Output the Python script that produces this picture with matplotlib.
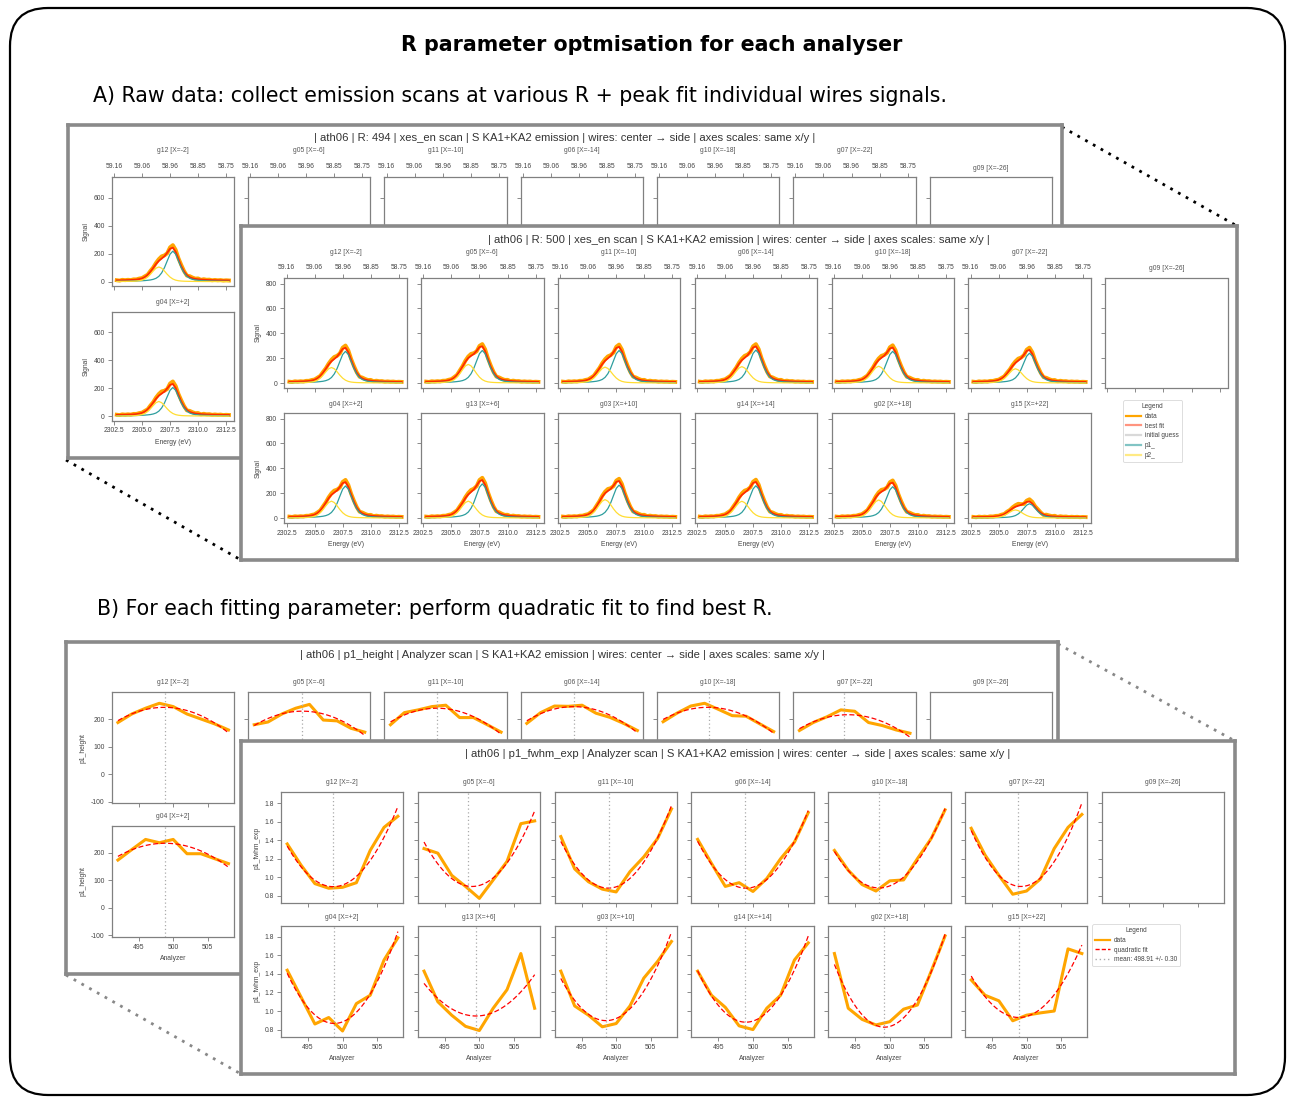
import numpy as np
import matplotlib
matplotlib.use('Agg')
import matplotlib.pyplot as plt
from matplotlib.patches import FancyBboxPatch
from matplotlib.lines import Line2D

plt.rcParams['font.family'] = ['Liberation Sans', 'DejaVu Sans']

W, H = 1293, 1101

# ---- data -------------------------------------------------------------
wires_top = ['g12 [X=-2]', 'g05 [X=-6]', 'g11 [X=-10]', 'g06 [X=-14]',
             'g10 [X=-18]', 'g07 [X=-22]', 'g09 [X=-26]']
wires_bot = ['g04 [X=+2]', 'g13 [X=+6]', 'g03 [X=+10]', 'g14 [X=+14]',
             'g02 [X=+18]', 'g15 [X=+22]']

energy_ticks = [2302.5, 2305.0, 2307.5, 2310.0, 2312.5]
energy_labels = ['2302.5', '2305.0', '2307.5', '2310.0', '2312.5']
angle_labels = ['59.16', '59.06', '58.96', '58.85', '58.75']

# energy grid of the scans (eV)
energy = np.linspace(2302.75, 2312.75, 41)
# normalised peak profiles
p1_shape = [0.010, 0.011, 0.012, 0.013, 0.015, 0.017, 0.019, 0.022, 0.026, 0.030,
            0.036, 0.045, 0.056, 0.076, 0.110, 0.174, 0.286, 0.458, 0.682, 0.901,
            1.0, 0.901, 0.682, 0.458, 0.286, 0.174, 0.110, 0.076, 0.056, 0.045,
            0.036, 0.030, 0.026, 0.022, 0.019, 0.017, 0.015, 0.013, 0.012, 0.011, 0.010]
p2_shape = [0.012, 0.013, 0.015, 0.018, 0.021, 0.025, 0.031, 0.042, 0.063, 0.104,
            0.182, 0.312, 0.5, 0.722, 0.918, 1.0, 0.918, 0.722, 0.5, 0.312,
            0.182, 0.104, 0.063, 0.042, 0.031, 0.025, 0.021, 0.018, 0.015, 0.013,
            0.012, 0.010, 0.009, 0.008, 0.007, 0.007, 0.006, 0.006, 0.005, 0.005, 0.004]
# data minus best fit (counts)
resid = [1, -2, 3, 0, 2, -1, 3, 1, 4, 2, 5, 1, 6, 3, 8, 12, 16, 6, -4, 10,
         18, 14, 6, 9, 4, -3, 7, 5, 2, 6, -2, 4, 1, 3, -1, 2, 0, 2, -1, 1, 0]
background = 6

# fitted heights, R = 500
r500_p1_top = [255, 262, 262, 265, 255, 240]
r500_p2_top = [125, 150, 128, 132, 135, 115]
r500_p1_bot = [258, 275, 265, 260, 252, 115]
r500_p2_bot = [136, 136, 148, 135, 145, 65]
# fitted heights, R = 494 (only g12 and g04 visible)
r494_p1_top = [218]
r494_p2_top = [105]
r494_p1_bot = [205]
r494_p2_bot = [105]

analyzer = [492, 494, 496, 498, 500, 502, 504, 506, 508]
fwhm_top = [
    [1.36, 1.13, 0.93, 0.88, 0.89, 0.94, 1.29, 1.54, 1.66],
    [1.31, 1.26, 1.02, 0.90, 0.77, 0.97, 1.17, 1.58, 1.61],
    [1.44, 1.09, 0.95, 0.87, 0.84, 1.06, 1.22, 1.42, 1.74],
    [1.41, 1.15, 0.90, 0.94, 0.845, 0.985, 1.20, 1.38, 1.70],
    [1.29, 1.075, 0.92, 0.85, 0.96, 0.97, 1.20, 1.42, 1.73],
    [1.53, 1.24, 1.02, 0.815, 0.85, 0.98, 1.31, 1.54, 1.68],
]
fwhm_bot = [
    [1.44, 1.15, 0.86, 0.93, 0.785, 1.08, 1.17, 1.55, 1.79],
    [1.43, 1.10, 0.955, 0.835, 0.79, 1.03, 1.23, 1.62, 1.03],
    [1.43, 1.055, 0.955, 0.83, 0.865, 1.055, 1.355, 1.535, 1.75],
    [1.43, 1.17, 1.04, 0.84, 0.80, 1.03, 1.17, 1.55, 1.735],
    [1.62, 1.03, 0.91, 0.85, 0.885, 1.02, 1.065, 1.43, 1.81],
    [1.335, 1.17, 1.11, 0.895, 0.955, 0.98, 1.00, 1.67, 1.62],
]
fwhm_best_top = [498.6, 498.4, 498.9, 498.9, 498.5, 498.8]
fwhm_best_bot = [498.7, 499.5, 498.5, 498.9, 499.2, 498.9]

height_top = [
    [188, 219, 240, 258, 246, 219, 201, 183, 161],
    [180, 190, 219, 240, 254, 197, 194, 167, 153],
    [180, 224, 234, 246, 251, 206, 206, 180, 153],
    [185, 224, 248, 247, 251, 222, 207, 185, 159],
    [191, 222, 248, 258, 236, 213, 211, 183, 155],
    [159, 188, 209, 234, 229, 188, 177, 161, 149],
]
height_bot = [[173, 211, 248, 236, 248, 196, 196, 178, 160]]
height_best_top = [498.75, 498.9, 498.7, 498.9, 498.7, 498.5]
height_best_bot = [498.75]

# ---- styling ------------------------------------------------------------
C_DATA, C_FIT, C_P1, C_P2, C_INIT = '#ffa500', '#ff2a00', '#2e9e9e', '#ffdd33', '#d0d0d0'
FS = 4.9
fig = plt.figure(figsize=(W / 100, H / 100), dpi=100)


def px_ax(l, t, r, b, z):
    return fig.add_axes([l / W, 1 - b / H, (r - l) / W, (b - t) / H], zorder=z)


def panel(l, t, r, b, z, title, title_y):
    ax = px_ax(l, t, r, b, z)
    ax.set_xticks([])
    ax.set_yticks([])
    for s in ax.spines.values():
        s.set_color('#8a8a8a')
        s.set_linewidth(2.6)
    ax.text(0.5, (b - title_y) / (b - t), title, transform=ax.transAxes,
            ha='center', va='center', fontsize=8.15, color='#333333')
    return ax


def sub(l, t, r, b, z, label, label_y, xlim, xticks, ylim, yticks):
    ax = px_ax(l, t, r, b, z)
    ax.set_xlim(*xlim)
    ax.set_ylim(*ylim)
    ax.set_xticks(xticks)
    ax.set_yticks(yticks)
    for s in ax.spines.values():
        s.set_color('#808080')
        s.set_linewidth(0.9)
    ax.tick_params(direction='out', length=3, width=0.6, color='#777777',
                   labelsize=FS, labelcolor='#444444', pad=2,
                   labelleft=False, labelbottom=False)
    ax.text(0.5, (b - label_y) / (b - t), label, transform=ax.transAxes,
            ha='center', va='center', fontsize=FS, color='#555555')
    return ax


def draw_spectrum(ax, h1, h2):
    p1 = h1 * np.array(p1_shape)
    p2 = h2 * np.array(p2_shape)
    fit = p1 + p2 + background
    ax.plot(energy, fit + np.array(resid), color=C_DATA, lw=2.8, solid_joinstyle='round')
    ax.plot(energy, fit, color=C_FIT, lw=1.3)
    ax.plot(energy, p1, color=C_P1, lw=0.9)
    ax.plot(energy, p2, color=C_P2, lw=0.9)


def draw_scan(ax, y, best):
    ax.plot(analyzer, y, color=C_DATA, lw=2.2)
    coef = np.polyfit(analyzer, y, 2)
    xs = np.linspace(analyzer[0], analyzer[-1], 60)
    ax.plot(xs, np.polyval(coef, xs), color='red', lw=0.9, ls=(0, (4, 2)))
    ax.axvline(best, color='#aaaaaa', lw=0.9, ls=(0, (1, 2)))


def spectrum_panel(geo, z, p1_top, p2_top, p1_bot, p2_bot, ylim, yticks):
    x0, step, w = geo['x0'], geo['step'], geo['w']
    (t0, b0), (t1, b1) = geo['rows']
    xlim = (2302.3, 2313.2)
    for i, name in enumerate(wires_top):
        l = x0 + i * step
        if i == 6:
            sub(l, t0, l + w, b0, z, name, geo['g09_y'], xlim, energy_ticks, ylim, yticks)
            continue
        ax = sub(l, t0, l + w, b0, z, name, geo['sub_y'][0], xlim, energy_ticks, ylim, yticks)
        ax.set_xticklabels(angle_labels)
        ax.tick_params(axis='x', top=True, labeltop=True)
        if i < len(p1_top):
            draw_spectrum(ax, p1_top[i], p2_top[i])
        if i == 0:
            ax.tick_params(axis='y', labelleft=True)
            ax.set_ylabel('Signal', fontsize=FS, color='#444444', labelpad=3)
    for i, name in enumerate(wires_bot):
        l = x0 + i * step
        ax = sub(l, t1, l + w, b1, z, name, geo['sub_y'][1], xlim, energy_ticks, ylim, yticks)
        ax.set_xticklabels(energy_labels)
        ax.tick_params(axis='x', labelbottom=True)
        ax.set_xlabel('Energy (eV)', fontsize=FS, color='#444444', labelpad=3)
        if i < len(p1_bot):
            draw_spectrum(ax, p1_bot[i], p2_bot[i])
        if i == 0:
            ax.tick_params(axis='y', labelleft=True)
            ax.set_ylabel('Signal', fontsize=FS, color='#444444', labelpad=3)


def scan_panel(geo, z, top, best_top, bot, best_bot, ylim, yticks, ylabel, yfmt):
    x0, step, w = geo['x0'], geo['step'], geo['w']
    (t0, b0), (t1, b1) = geo['rows']
    xlim = (491.1, 508.8)
    xt = [495, 500, 505]
    for i, name in enumerate(wires_top):
        l = x0 + i * step
        ax = sub(l, t0, l + w, b0, z, name, geo['sub_y'][0], xlim, xt, ylim, yticks)
        if i < len(top):
            draw_scan(ax, top[i], best_top[i])
        if i == 0:
            ax.tick_params(axis='y', labelleft=True)
            ax.set_yticklabels([yfmt(v) for v in yticks])
            ax.set_ylabel(ylabel, fontsize=FS, color='#444444', labelpad=3)
    for i, name in enumerate(wires_bot):
        l = x0 + i * step
        ax = sub(l, t1, l + w, b1, z, name, geo['sub_y'][1], xlim, xt, ylim, yticks)
        ax.set_xticklabels([str(v) for v in xt])
        ax.tick_params(axis='x', labelbottom=True)
        ax.set_xlabel('Analyzer', fontsize=FS, color='#444444', labelpad=3)
        if i < len(bot):
            draw_scan(ax, bot[i], best_bot[i])
        if i == 0:
            ax.tick_params(axis='y', labelleft=True)
            ax.set_yticklabels([yfmt(v) for v in yticks])
            ax.set_ylabel(ylabel, fontsize=FS, color='#444444', labelpad=3)


def add_legend(ax, handles, labels, left, top):
    leg = ax.legend(handles, labels, title='Legend', loc='upper left',
                    bbox_to_anchor=(left / W, 1 - top / H), bbox_transform=fig.transFigure,
                    fontsize=4.7, title_fontsize=4.7, handlelength=2.3, handletextpad=0.6,
                    labelspacing=0.42, borderpad=0.45, fancybox=True, framealpha=1,
                    edgecolor='#d8d8d8')
    leg.get_frame().set_linewidth(0.6)
    for t in leg.get_texts():
        t.set_color('#444444')
    leg.get_title().set_color('#444444')


# ---- background, frame, headings -------------------------------------------
bg = fig.add_axes([0, 0, 1, 1], zorder=0)
bg.set_xlim(0, W)
bg.set_ylim(H, 0)
bg.axis('off')
bg.add_patch(FancyBboxPatch((10, 8), 1275, 1087, boxstyle='round,pad=0,rounding_size=38',
                            fc='white', ec='black', lw=1.6))
bg.text(652, 45, 'R parameter optmisation for each analyser', ha='center', va='center',
        fontsize=14.9, fontweight='bold', family='DejaVu Sans')
bg.text(93, 96, 'A) Raw data: collect emission scans at various R + peak fit individual wires signals.',
        ha='left', va='center', fontsize=14.8, family='DejaVu Sans')
bg.text(97, 609, 'B) For each fitting parameter: perform quadratic fit to find best R.',
        ha='left', va='center', fontsize=14.8, family='DejaVu Sans')
bg.plot([1062, 1237], [127, 226], color='black', lw=2, ls=(0, (1, 2.2)))
bg.plot([66, 241], [460, 560], color='black', lw=2, ls=(0, (1, 2.2)))
bg.plot([1058, 1235], [644, 741], color='#888888', lw=2, ls=(0, (1, 2.2)))
bg.plot([66, 241], [975, 1074], color='#888888', lw=2, ls=(0, (1, 2.2)))

# ---- A) raw spectra --------------------------------------------------------
tail = ' | xes_en scan | S KA1+KA2 emission | wires: center \u2192 side | axes scales: same x/y |'
panel(68, 125, 1062, 458, 1, '| ath06 | R: 494' + tail, 138)
spectrum_panel(dict(x0=111.7, step=136.3, w=122.3, rows=[(177, 286), (311.5, 420.5)],
                    sub_y=[151, 302], g09_y=168), 2,
               r494_p1_top, r494_p2_top, r494_p1_bot, r494_p2_bot,
               (-31, 748), [0, 200, 400, 600])

frontA = panel(241, 226, 1237, 560, 3, '| ath06 | R: 500' + tail, 240)
spectrum_panel(dict(x0=284.3, step=136.8, w=122.4, rows=[(278, 388), (413, 523)],
                    sub_y=[252, 404], g09_y=268), 4,
               r500_p1_top, r500_p2_top, r500_p1_bot, r500_p2_bot,
               (-40, 845), [0, 200, 400, 600, 800])
handles_a = [Line2D([], [], color=c, lw=1.6, alpha=a) for c, a in
             [(C_DATA, 1), (C_FIT, 0.5), (C_INIT, 0.8), (C_P1, 0.6), (C_P2, 0.6)]]
add_legend(frontA, handles_a, ['data', 'best fit', 'initial guess', 'p1_', 'p2_'], 1120, 397)

# ---- B) analyser scans -----------------------------------------------------
tailB = ' | Analyzer scan | S KA1+KA2 emission | wires: center \u2192 side | axes scales: same x/y |'
panel(66, 642, 1058, 974, 1, '| ath06 | p1_height' + tailB, 655)
scan_panel(dict(x0=111.7, step=136.3, w=122.3, rows=[(692.3, 803.3), (825.7, 936.7)],
                sub_y=[683, 817]), 2,
           height_top, height_best_top, height_bot, height_best_bot,
           (-106, 298), [-100, 0, 100, 200], 'p1_height', lambda v: '%d' % v)

frontB = panel(241, 741, 1235, 1074, 3, '| ath06 | p1_fwhm_exp' + tailB, 754)
scan_panel(dict(x0=281, step=136.8, w=122.4, rows=[(792.3, 903), (925.7, 1037)],
                sub_y=[783, 917]), 4,
           fwhm_top, fwhm_best_top, fwhm_bot, fwhm_best_bot,
           (0.72, 1.92), [0.8, 1.0, 1.2, 1.4, 1.6, 1.8], 'p1_fwhm_exp', lambda v: '%.1f' % v)
handles_b = [Line2D([], [], color=C_DATA, lw=1.6),
             Line2D([], [], color='red', lw=1.0, ls=(0, (3, 1.5))),
             Line2D([], [], color='#aaaaaa', lw=1.0, ls=(0, (1, 2)))]
add_legend(frontB, handles_b, ['data', 'quadratic fit', 'mean: 498.91 +/- 0.30'], 1089, 921)

fig.savefig('out.png', dpi=100)
